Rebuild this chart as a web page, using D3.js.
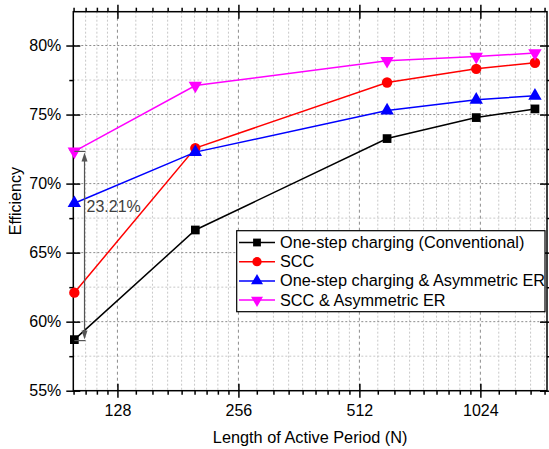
<!DOCTYPE html>
<html>
<head>
<meta charset="utf-8">
<script src="https://cdn.jsdelivr.net/npm/d3@7"></script>
<style>
  body { margin: 0; background: #fff; }
  text { font-family: "Liberation Sans", Arial, sans-serif; }
</style>
</head>
<body>
<svg id="chart" width="549" height="449"></svg>
<script>
// chart data
const periods = [100, 200, 600, 1000, 1400];
const oneStep = [58.7, 66.64, 73.26, 74.78, 75.41];
const scc = [62.1, 72.57, 77.32, 78.31, 78.75];
const oneStepAsym = [68.58, 72.28, 75.29, 76.07, 76.36];
const sccAsym = [72.33, 77.1, 78.89, 79.2, 79.45];
const xTicks = [128, 256, 512, 1024];
const yTicks = [55, 60, 65, 70, 75, 80];
const seriesNames = [
  "One-step charging (Conventional)",
  "SCC",
  "One-step charging & Asymmetric ER",
  "SCC & Asymmetric ER",
];
const gainLabel = "23.21%";

const svg = d3.select("#chart");
const pLeft = 73.3, pRight = 547, pTop = 11.7, pBottom = 390.7;

// x is a base 2 log axis, y in percent
const x = d3.scaleLog().base(2).domain([99.4, 1500]).range([pLeft, pRight]);
const y = d3.scaleLinear().domain([55, 82.45]).range([pBottom, pTop]);

// minor ticks: 8 evenly spaced values inside each doubling
let xMinor = [];
[64, 128, 256, 512, 1024].forEach((m) => {
  for (let k = 1; k <= 8; k++) {
    const v = m * (1 + k / 9);
    if (v > x.domain()[0] && v < x.domain()[1]) xMinor.push(v);
  }
});
const yMinor = [57.5, 62.5, 67.5, 72.5, 77.5, 82.5].filter((v) => v < y.domain()[1]);

// grid
const grid = svg.append("g");
grid.selectAll(".gxm").data(xMinor).enter().append("line")
  .attr("x1", (d) => x(d)).attr("x2", (d) => x(d))
  .attr("y1", pTop).attr("y2", pBottom)
  .attr("stroke", "#c8c8c8").attr("stroke-width", 1).attr("stroke-dasharray", "2,2");
grid.selectAll(".gym").data(yMinor).enter().append("line")
  .attr("x1", pLeft).attr("x2", pRight)
  .attr("y1", (d) => y(d)).attr("y2", (d) => y(d))
  .attr("stroke", "#c8c8c8").attr("stroke-width", 1).attr("stroke-dasharray", "2,2");
grid.selectAll(".gx").data(xTicks).enter().append("line")
  .attr("x1", (d) => x(d)).attr("x2", (d) => x(d))
  .attr("y1", pTop).attr("y2", pBottom)
  .attr("stroke", "#8c8c8c").attr("stroke-width", 1).attr("stroke-dasharray", "3,3");
grid.selectAll(".gy").data(yTicks.slice(1)).enter().append("line")
  .attr("x1", pLeft).attr("x2", pRight)
  .attr("y1", (d) => y(d)).attr("y2", (d) => y(d))
  .attr("stroke", "#8c8c8c").attr("stroke-width", 1).attr("stroke-dasharray", "2,2");

// axes: bottom/left with labels, top/right as frame
function styleAxis(g) {
  g.select(".domain").remove();
  g.selectAll("line").attr("stroke", "#000").attr("stroke-width", 1.5);
  g.selectAll("text").attr("font-size", "16px").attr("fill", "#000");
}
// major ticks cross the axis line, minor ticks point outwards
svg.append("g").attr("transform", "translate(0," + (pBottom - 7) + ")")
  .call(d3.axisBottom(x).tickValues(xTicks).tickFormat(d3.format("d")).tickSize(14).tickPadding(7))
  .call(styleAxis);
svg.append("g").attr("transform", "translate(0," + pBottom + ")")
  .call(d3.axisBottom(x).tickValues(xMinor).tickFormat("").tickSize(4)).call(styleAxis);
svg.append("g").attr("transform", "translate(0," + pTop + ")")
  .call(d3.axisTop(x).tickValues(xMinor).tickFormat("").tickSize(4)).call(styleAxis);
svg.append("g").attr("transform", "translate(0," + (pTop + 7) + ")")
  .call(d3.axisTop(x).tickValues(xTicks).tickFormat("").tickSize(14)).call(styleAxis);

svg.append("g").attr("transform", "translate(" + (pLeft + 7) + ",0)")
  .call(d3.axisLeft(y).tickValues(yTicks).tickFormat((d) => d + "%").tickSize(14).tickPadding(5))
  .call(styleAxis);
svg.append("g").attr("transform", "translate(" + pLeft + ",0)")
  .call(d3.axisLeft(y).tickValues(yMinor).tickFormat("").tickSize(4)).call(styleAxis);
svg.append("g").attr("transform", "translate(" + (pRight - 7) + ",0)")
  .call(d3.axisRight(y).tickValues(yTicks).tickFormat("").tickSize(14)).call(styleAxis);
svg.append("g").attr("transform", "translate(" + pRight + ",0)")
  .call(d3.axisRight(y).tickValues(yMinor).tickFormat("").tickSize(4)).call(styleAxis);

svg.append("rect")
  .attr("x", pLeft).attr("y", pTop)
  .attr("width", pRight - pLeft).attr("height", pBottom - pTop)
  .attr("fill", "none").attr("stroke", "#000").attr("stroke-width", 1.5);

// series
const series = [
  { name: seriesNames[0], values: oneStep, color: "#000000", symbol: d3.symbolSquare, size: 76, rot: 0 },
  { name: seriesNames[1], values: scc, color: "#ff0000", symbol: d3.symbolCircle, size: 85, rot: 0 },
  { name: seriesNames[2], values: oneStepAsym, color: "#0000ff", symbol: d3.symbolTriangle, size: 78, rot: 0 },
  { name: seriesNames[3], values: sccAsym, color: "#ff00ff", symbol: d3.symbolTriangle, size: 78, rot: 180 },
];

const line = d3.line().x((d) => x(d[0])).y((d) => y(d[1]));

series.forEach((s) => {
  const pts = periods.map((p, i) => [p, s.values[i]]);
  svg.append("path").datum(pts)
    .attr("fill", "none").attr("stroke", s.color).attr("stroke-width", 1.5)
    .attr("d", line);
  svg.append("g").selectAll("path").data(pts).enter().append("path")
    .attr("d", d3.symbol().type(s.symbol).size(s.size))
    .attr("fill", s.color)
    .attr("transform", (d) => "translate(" + x(d[0]) + "," + y(d[1]) + ") rotate(" + s.rot + ")");
});

// gain annotation between the first black and first magenta points
const ax = x(106);
const yLo = y(oneStep[0]), yHi = y(sccAsym[0]);
const ann = svg.append("g").attr("stroke", "#555").attr("stroke-width", 1.2);
ann.append("line").attr("x1", x(periods[0])).attr("x2", ax + 1).attr("y1", yHi).attr("y2", yHi);
ann.append("line").attr("x1", x(periods[0])).attr("x2", ax + 1).attr("y1", yLo + 1).attr("y2", yLo + 1);
ann.append("line").attr("x1", ax).attr("x2", ax).attr("y1", yHi + 6).attr("y2", yLo - 6);
ann.append("path").attr("stroke", "none").attr("fill", "#555")
  .attr("d", "M" + ax + "," + (yHi + 1) + "l-3,9l6,0z");
ann.append("path").attr("stroke", "none").attr("fill", "#555")
  .attr("d", "M" + ax + "," + yLo + "l-3,-9l6,0z");
svg.append("text").attr("x", ax + 2).attr("y", y(67.95))
  .attr("font-size", "16px").attr("fill", "#404040").text(gainLabel);

// legend
const lg = svg.append("g");
lg.append("rect").attr("x", 236.7).attr("y", 230.7).attr("width", 308.3).attr("height", 81)
  .attr("fill", "#fff").attr("stroke", "#000").attr("stroke-width", 1.2);
series.forEach((s, i) => {
  const cy = 242.5 + i * 19.2;
  lg.append("line").attr("x1", 239).attr("x2", 275).attr("y1", cy).attr("y2", cy)
    .attr("stroke", s.color).attr("stroke-width", 1.5);
  lg.append("path").attr("d", d3.symbol().type(s.symbol).size(s.size * 0.8))
    .attr("fill", s.color)
    .attr("transform", "translate(257," + cy + ") rotate(" + s.rot + ")");
  lg.append("text").attr("x", 280).attr("y", cy + 5.5)
    .attr("font-size", "16.3px").attr("fill", "#000").text(s.name);
});

// titles
svg.append("text").attr("x", (pLeft + pRight) / 2).attr("y", 442.5)
  .attr("text-anchor", "middle").attr("font-size", "16.3px").text("Length of Active Period (N)");
svg.append("text").attr("transform", "translate(21," + (pTop + pBottom) / 2 + ") rotate(-90)")
  .attr("text-anchor", "middle").attr("font-size", "16px").text("Efficiency");
</script>
</body>
</html>
